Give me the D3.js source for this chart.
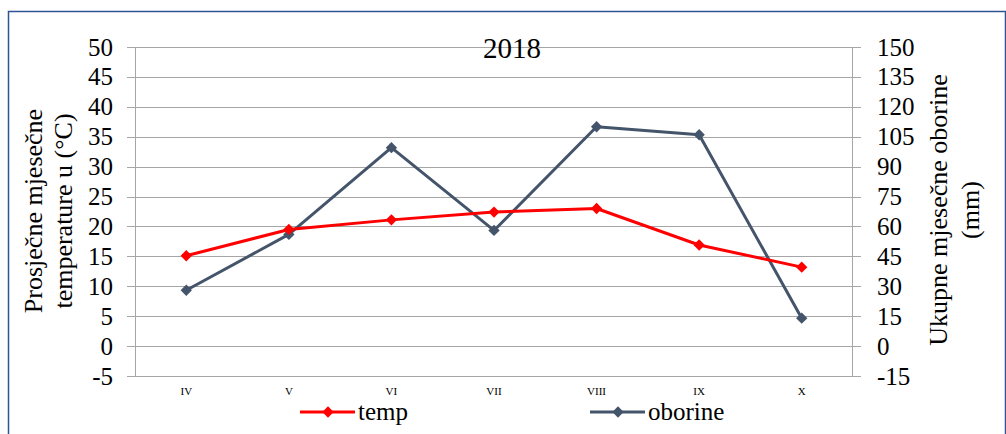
<!DOCTYPE html>
<html>
<head>
<meta charset="utf-8">
<script src="https://cdn.jsdelivr.net/npm/d3@7"></script>
<style>
  body { margin: 0; background: #fff; }
  text { font-family: "Liberation Serif", serif; fill: #000; }
</style>
</head>
<body>
<div id="chart"></div>
<script>
var months = ["IV", "V", "VI", "VII", "VIII", "IX", "X"];
var temp = [15.1, 19.5, 21.1, 22.4, 23.0, 16.9, 13.2];
var oborine = [28, 56, 99.5, 58, 110, 106, 14];
var leftTicks = [-5, 0, 5, 10, 15, 20, 25, 30, 35, 40, 45, 50];
var rightTicks = [-15, 0, 15, 30, 45, 60, 75, 90, 105, 120, 135, 150];

var W = 1006, H = 434;
var margin = {top: 47, right: 153, bottom: 58, left: 135},
    width = W - margin.left - margin.right,
    height = H - margin.top - margin.bottom;

var svg = d3.select("#chart").append("svg")
  .attr("width", W)
  .attr("height", H);

// frame
svg.append("path")
  .attr("d", "M8.5," + H + "V11.5H1005.5V" + H)
  .attr("fill", "none")
  .attr("stroke", "#2e5496")
  .attr("stroke-width", 1.5);

var g = svg.append("g")
  .attr("transform", "translate(" + margin.left + "," + margin.top + ")");

var x = d3.scaleBand().domain(months).range([0, width]);
var yL = d3.scaleLinear().domain([-5, 50]).range([height, 0]);
var yR = d3.scaleLinear().domain([-15, 150]).range([height, 0]);

// gridlines
g.selectAll(".grid")
  .data(leftTicks)
  .enter().append("line")
  .attr("x1", -8).attr("x2", width + 8)
  .attr("y1", function(d) { return Math.round(yL(d)) + 0.5; })
  .attr("y2", function(d) { return Math.round(yL(d)) + 0.5; })
  .attr("stroke", "#a6a6a6")
  .attr("stroke-width", 1);

// axis lines
g.append("line").attr("x1", 0.5).attr("x2", 0.5).attr("y1", 0).attr("y2", height)
  .attr("stroke", "#a6a6a6");
g.append("line").attr("x1", width - 0.5).attr("x2", width - 0.5).attr("y1", 0).attr("y2", height)
  .attr("stroke", "#a6a6a6");

// left tick labels
g.selectAll(".lt")
  .data(leftTicks)
  .enter().append("text")
  .attr("x", -22)
  .attr("y", function(d) { return yL(d); })
  .attr("dy", "0.34em")
  .attr("text-anchor", "end")
  .style("font-size", "25px")
  .text(function(d) { return d; });

// right tick labels
g.selectAll(".rt")
  .data(rightTicks)
  .enter().append("text")
  .attr("x", width + 24)
  .attr("y", function(d) { return yR(d); })
  .attr("dy", "0.34em")
  .attr("text-anchor", "start")
  .style("font-size", "25px")
  .text(function(d) { return d; });

// category labels
g.selectAll(".cat")
  .data(months)
  .enter().append("text")
  .attr("x", function(d) { return x(d) + x.bandwidth() / 2; })
  .attr("y", height + 19)
  .attr("text-anchor", "middle")
  .style("font-size", "11px")
  .text(function(d) { return d; });

// title
svg.append("text")
  .attr("x", 512)
  .attr("y", 58)
  .attr("text-anchor", "middle")
  .style("font-size", "29px")
  .text("2018");

// axis titles
var lt = svg.append("text")
  .attr("transform", "translate(0,211) rotate(-90)")
  .attr("text-anchor", "middle")
  .style("font-size", "26px");
lt.append("tspan").attr("x", 0).attr("y", 42).text("Prosječne mjesečne");
lt.append("tspan").attr("x", 0).attr("y", 72).text("temperature u (°C)");

var rt = svg.append("text")
  .attr("transform", "translate(0,210) rotate(-90)")
  .attr("text-anchor", "middle")
  .style("font-size", "26px");
rt.append("tspan").attr("x", 0).attr("y", 947).text("Ukupne mjesečne oborine");
rt.append("tspan").attr("x", 0).attr("y", 979).text("(mm)");

// series
var series = [
  {name: "temp", values: temp, scale: yL, color: "#ff0000"},
  {name: "oborine", values: oborine, scale: yR, color: "#44546a"}
];

var diamond = d3.symbol().type(d3.symbolSquare).size(64);

series.slice().reverse().forEach(function(s) {
  var line = d3.line()
    .x(function(d, i) { return x(months[i]) + x.bandwidth() / 2; })
    .y(function(d) { return s.scale(d); });
  g.append("path")
    .datum(s.values)
    .attr("d", line)
    .attr("fill", "none")
    .attr("stroke", s.color)
    .attr("stroke-width", 3)
    .attr("stroke-linejoin", "round");
  g.selectAll(".m-" + s.name)
    .data(s.values)
    .enter().append("path")
    .attr("d", diamond)
    .attr("transform", function(d, i) {
      return "translate(" + (x(months[i]) + x.bandwidth() / 2) + "," + s.scale(d) + ") rotate(45)";
    })
    .attr("fill", s.color);
});

// legend
var legendX = [300, 590];
series.forEach(function(s, i) {
  var lg = svg.append("g").attr("transform", "translate(" + legendX[i] + ",412)");
  lg.append("line").attr("x1", 0).attr("x2", 55).attr("y1", 0).attr("y2", 0)
    .attr("stroke", s.color).attr("stroke-width", 3);
  lg.append("path").attr("d", diamond).attr("transform", "translate(28,0) rotate(45)").attr("fill", s.color);
  lg.append("text").attr("x", 58).attr("y", 8)
    .style("font-size", "25px").text(s.name);
});
</script>
</body>
</html>
